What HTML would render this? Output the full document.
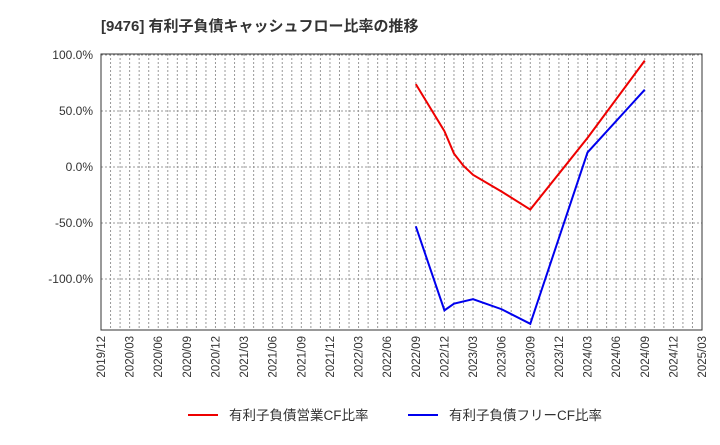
<!DOCTYPE html>
<html><head><meta charset="utf-8"><style>
body{margin:0;background:#fff;width:720px;height:440px;overflow:hidden;font-family:"Liberation Sans","Noto Sans CJK JP",sans-serif}
</style></head><body>
<svg id="c" width="720" height="440" xmlns="http://www.w3.org/2000/svg">
<text x="101" y="31" font-size="15" font-weight="bold" fill="#333" font-family="Liberation Sans, Noto Sans CJK JP, sans-serif">[9476]  有利子負債キャッシュフロー比率の推移</text>
<g id="grid"></g><g id="axes"></g><g id="series"></g>
<g>
<line x1="188" y1="415" x2="218" y2="415" stroke="#e00" stroke-width="2"/>
<text x="229" y="420" font-size="13.5" fill="#333">有利子負債営業CF比率</text>
<line x1="408" y1="415" x2="438" y2="415" stroke="#00e" stroke-width="2"/>
<text x="449" y="420" font-size="13.5" fill="#333">有利子負債フリーCF比率</text>
</g>
</svg>
<script>
const xLabels=["2019/12","2020/03","2020/06","2020/09","2020/12","2021/03","2021/06","2021/09","2021/12","2022/03","2022/06","2022/09","2022/12","2023/03","2023/06","2023/09","2023/12","2024/03","2024/06","2024/09","2024/12","2025/03"];
const yTicks=[100,50,0,-50,-100];
const redMonths=[33,36,37,38,39,42,45,51,57];
const redValues=[74,32,12,1,-7,-22,-38,26,95];
const blueMonths=[33,36,37,39,42,45,51,57];
const blueValues=[-53,-128,-122,-118,-127,-140,13,69];
const L=101,R=702,T=54,B=330;
const xm=m=>L+m*(R-L)/63;
const y=v=>167-v*1.12;
const NS="http://www.w3.org/2000/svg";
function mk(t,a,p){const e=document.createElementNS(NS,t);for(const k in a)e.setAttribute(k,a[k]);p.appendChild(e);return e;}
const g=document.getElementById('grid'),ax=document.getElementById('axes'),s=document.getElementById('series');
for(let m=1;m<63;m++){const l=mk('line',{x1:xm(m),x2:xm(m),y1:T,y2:B,stroke:'#999','stroke-dasharray':'2,2','stroke-width':1},g);

}
yTicks.forEach(v=>{const l=mk('line',{x1:L,x2:R,y1:y(v),y2:y(v),stroke:'#999','stroke-dasharray':'2,2'},g);


const t=mk('text',{x:L-8,y:y(v)+4,'text-anchor':'end','font-size':12,fill:'#333'},ax);t.textContent=v.toFixed(1)+'%';

});
const f=mk('rect',{x:L,y:T,width:R-L,height:B-T,fill:'none',stroke:'#333','stroke-width':1},ax);


xLabels.forEach((lb,i)=>{const x=xm(i*3)+4;const t=mk('text',{x:x,y:B+6,'text-anchor':'end','font-size':11.5,fill:'#333',transform:`rotate(-90 ${x} ${B+6})`},ax);t.textContent=lb;

});
function line(ms,vs,c,n){const p=mk('polyline',{points:ms.map((m,i)=>xm(m)+','+y(vs[i])).join(' '),fill:'none',stroke:c,'stroke-width':2},s);

}
line(redMonths,redValues,'#e00','operating-cf-line');
line(blueMonths,blueValues,'#00e','free-cf-line');
</script>
</body></html>
